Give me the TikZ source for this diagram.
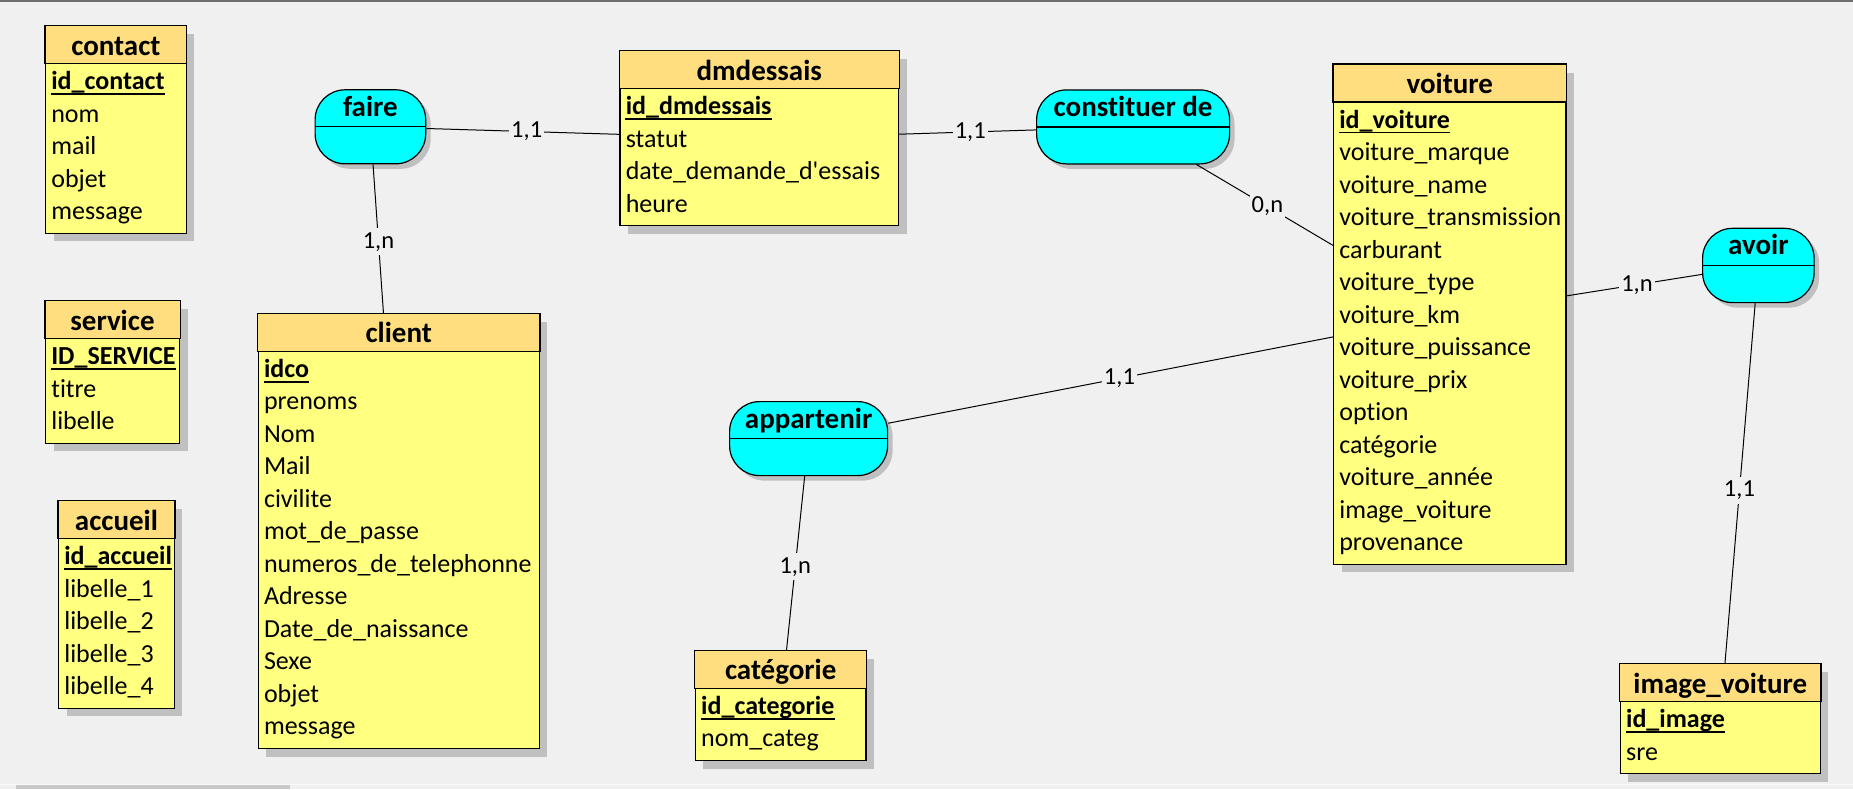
\documentclass[tikz,border=0pt]{standalone}
\usepackage{fontspec}
\setmainfont{Carlito}[Ligatures={NoCommon}]
\usetikzlibrary{calc,fit,shadows}
\definecolor{bgc}{RGB}{240,240,240}
\definecolor{entbody}{RGB}{255,255,128}
\definecolor{enthead}{RGB}{255,222,128}
\definecolor{assoc}{RGB}{0,255,255}
\definecolor{shadowc}{RGB}{192,192,192}
\definecolor{topc}{RGB}{110,110,110}
\definecolor{thumbc}{RGB}{200,200,200}
\tikzset{
  ent/.style={draw=black, line width=0.6pt, fill=entbody, inner sep=0pt,
    drop shadow={opacity=1, fill=shadowc, shadow xshift=4pt, shadow yshift=-4pt}},
  hdrbox/.style={draw=black, line width=0.6pt, fill=enthead},
  ttl/.style={font=\bfseries\fontsize{14.5}{17}\selectfont, anchor=base, inner sep=0pt},
  att/.style={font=\fontsize{13}{15}\selectfont, anchor=base west, inner sep=0pt},
  key/.style={font=\bfseries\fontsize{13}{15}\selectfont, anchor=base west, inner sep=0pt},
  keyline/.style={line width=0.75pt},
  asso/.style={draw=black, line width=0.6pt, fill=assoc, rounded corners=15pt, inner sep=0pt,
    drop shadow={opacity=1, fill=shadowc, shadow xshift=2.5pt, shadow yshift=-2.5pt}},
  divline/.style={line width=0.6pt},
  conn/.style={draw=black, line width=0.5pt},
  card/.style={font=\fontsize{12.25}{14}\selectfont, fill=bgc, inner xsep=1pt, inner ysep=2pt, pos=0.52}
}
\newcommand\mkentity[8]{%
  \node[ent, fit={(#2,#3)(#4,#5)}] (#1) {};
  \draw[hdrbox] (#1.north west) rectangle ($(#1.north east)+(0,38)$);
  \node[ttl] (#1T) at ($(#1.north)+(0,29.5)$) {#6};
  \node[key] (#1K) at ($(#1.north west)+(6,64)$) {#7};
  \draw[keyline] ($(#1K.base west)+(0,4.5)$) -- ($(#1K.base east)+(0,4.5)$);
  \foreach \t [count=\i] in {#8} {\node[att] (#1A\i) at ($(#1.north west)+(6,{64+32.5*\i})$) {\t};}
}
\newcommand\mkasso[6]{%
  \node[asso, minimum width=#4, minimum height=#5, anchor=north west] (#1) at (#2,#3) {};
  \draw[divline] (#1.west) -- (#1.east);
  \node[ttl] (#1T) at ($(#1.north)+(0,27)$) {#6};
}
\begin{document}
\begin{tikzpicture}[x=0.5pt,y=-0.5pt]
\useasboundingbox (0,0) rectangle (1853,789);
\fill[bgc] (0,0) rectangle (1853,789);
\fill[topc] (0,0) rectangle (1853,1.5);
\fill[white!70!bgc] (0,783.5) rectangle (1853,785);
\fill[thumbc] (16,785) rectangle (290,789);

% entities
\mkentity{contact}{45.5}{26.3}{186.2}{233.3}{contact}{id\_contact}{nom,mail,objet,message}
\mkentity{service}{45.5}{301.3}{179.5}{443.3}{service}{ID\_SERVICE}{titre,libelle}
\mkentity{accueil}{58.5}{501.3}{174.4}{708.3}{accueil}{id\_accueil}{libelle\_1,libelle\_2,libelle\_3,libelle\_4}
\mkentity{client}{258.2}{314}{539.3}{748.5}{client}{idco}{prenoms,Nom,Mail,civilite,mot\_de\_passe,numeros\_de\_telephonne,Adresse,Date\_de\_naissance,Sexe,objet,message}
\mkentity{dmdessais}{620}{51.3}{898.5}{225.8}{dmdessais}{id\_dmdessais}{statut,date\_demande\_d\textquotesingle essais,heure}
\mkentity{voiture}{1333.5}{64.6}{1566}{564.1}{voiture}{id\_voiture}{voiture\_marque,voiture\_name,voiture\_transmission,carburant,voiture\_type,voiture\_km,voiture\_puissance,voiture\_prix,option,catégorie,voiture\_année,image\_voiture,provenance}
\mkentity{categorie}{695.4}{651}{866}{760.5}{catégorie}{id\_categorie}{nom\_categ}
\mkentity{imagevoiture}{1620.3}{664.3}{1820.3}{773.8}{image\_voiture}{id\_image}{sre}

% associations
\mkasso{faire}{314.5}{89.2}{55.3pt}{37pt}{faire}
\mkasso{constituer}{1036}{89.3}{96.5pt}{37pt}{constituer de}
\mkasso{avoir}{1702}{227.7}{55.75pt}{37.15pt}{avoir}
\mkasso{appartenir}{729}{401}{79pt}{37pt}{appartenir}

% connectors
\draw[conn] (faire) -- node[card] (l1) {1,1} (dmdessais);
\draw[conn] (faire) -- node[card] (l2) {1,n} (client);
\draw[conn] (dmdessais) -- node[card] (l3) {1,1} (constituer);
\draw[conn] (constituer) -- node[card] (l4) {0,n} (voiture);
\draw[conn] (voiture) -- node[card] (l5) {1,n} (avoir);
\draw[conn] (appartenir) -- node[card] (l6) {1,1} (voiture);
\draw[conn] (appartenir) -- node[card] (l7) {1,n} (categorie);
\draw[conn] (avoir) -- node[card] (l8) {1,1} (imagevoiture);
\end{tikzpicture}
\end{document}
